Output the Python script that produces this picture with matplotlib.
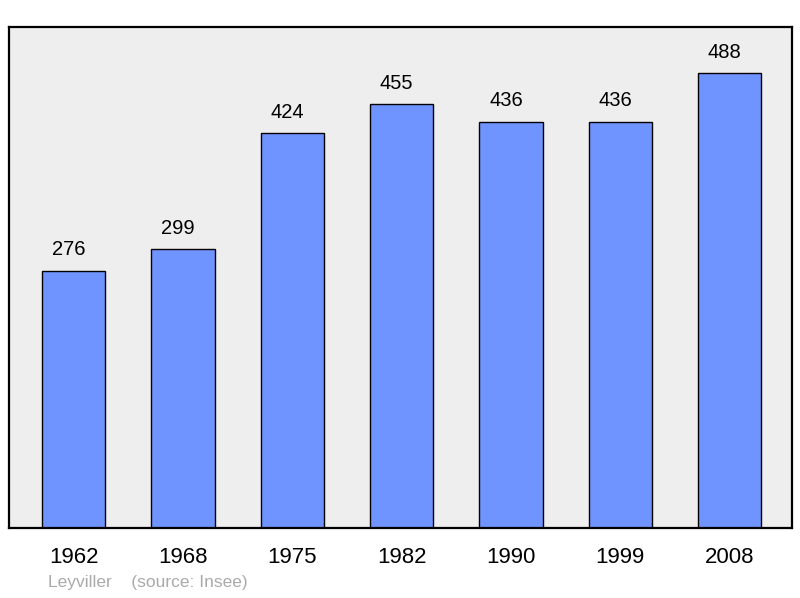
import matplotlib
matplotlib.use("Agg")
import matplotlib.pyplot as plt

# population de Leyviller par recensement
annees = ['1962', '1968', '1975', '1982', '1990', '1999', '2008']
population = [276, 299, 424, 455, 436, 436, 488]

plt.rcParams['font.family'] = ['Liberation Sans', 'DejaVu Sans']

fig = plt.figure(figsize=(8, 5.98), dpi=100)
ax = fig.add_axes([9 / 800, 70 / 598, 783 / 800, 501 / 598])
ax.set_facecolor('#eeeeee')

pos = list(range(len(annees)))
barras = ax.bar(pos, population, width=0.58, color='#7094ff',
                edgecolor='black', linewidth=1.0, zorder=2)

for x, v in zip(pos, population):
    ax.annotate(str(v), xy=(x, v), xytext=(-3.6, 11), textcoords='offset points',
                ha='center', va='baseline', fontsize=14.5)

ax.set_xlim(-0.59, 6.57)
ax.set_ylim(0, 537.5)
ax.set_xticks(pos)
ax.set_xticklabels(annees, fontsize=16)
ax.tick_params(axis='x', length=0, pad=14)
ax.set_yticks([])

for s in ax.spines.values():
    s.set_linewidth(1.6)

fig.text(48 / 800, 1 - 583 / 598, 'Leyviller    (source: Insee)',
         fontsize=12.5, color='#aaaaaa', va='center', ha='left')

fig.savefig('out.png', dpi=100)
